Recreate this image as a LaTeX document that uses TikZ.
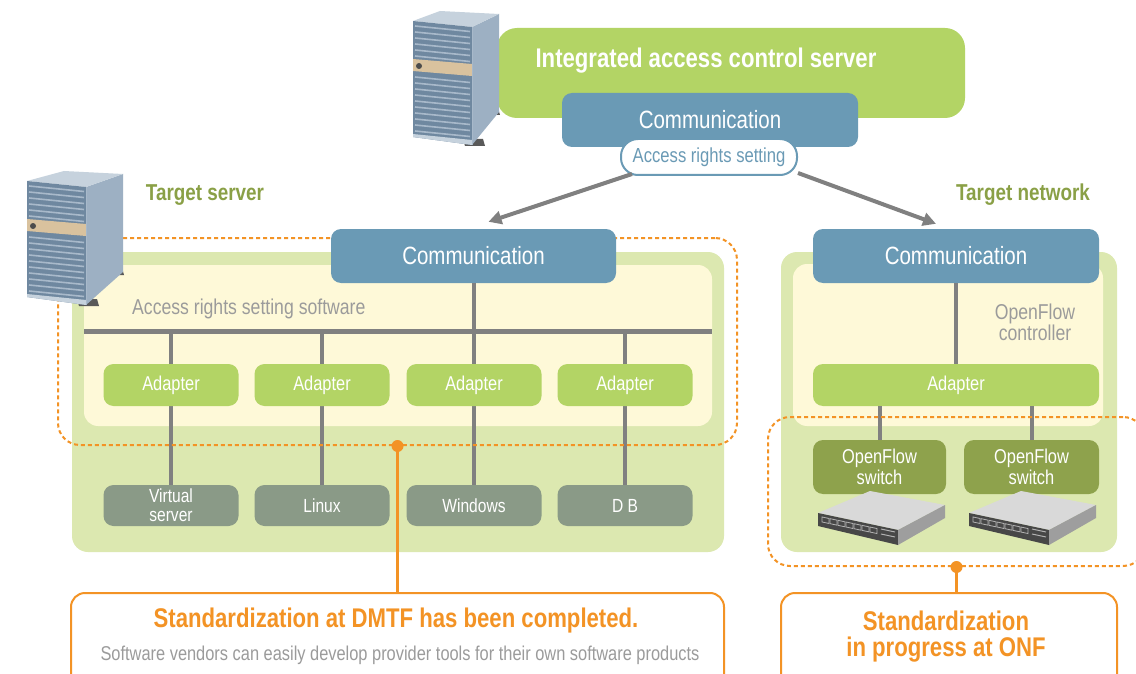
\documentclass[tikz,border=0pt]{standalone}
\usepackage{fontspec}
\setmainfont{Liberation Sans}[FakeStretch=0.82]
\usetikzlibrary{arrows.meta}

\definecolor{leafgreen}{HTML}{B3D465}
\definecolor{panelgreen}{HTML}{DCE8B0}
\definecolor{paleyellow}{HTML}{FEF9D8}
\definecolor{commblue}{HTML}{6A9AB5}
\definecolor{osgray}{HTML}{8A9A87}
\definecolor{olivebox}{HTML}{8EA24C}
\definecolor{olivetext}{HTML}{8AA046}
\definecolor{linegray}{HTML}{808080}
\definecolor{softgray}{HTML}{9B9B9B}
\definecolor{noteorange}{HTML}{F39325}
\definecolor{ventblue}{HTML}{6F88A0}
\definecolor{ventlight}{HTML}{A8B9CA}
\definecolor{sideblue}{HTML}{9DB0C3}
\definecolor{topblue}{HTML}{C6D2DD}
\definecolor{panelbeige}{HTML}{D9C29E}

\tikzset{
  panel/.style={fill=panelgreen, rounded corners=16pt, inner sep=0pt},
  softarea/.style={fill=paleyellow, rounded corners=14pt, inner sep=0pt},
  commbox/.style={fill=commblue, rounded corners=10pt, text=white, inner sep=0pt,
    minimum height=54pt, font=\fontsize{25}{28}\selectfont},
  accessbox/.style={fill=white, draw=commblue, line width=2pt, rounded corners=17pt,
    text=commblue, inner sep=0pt, minimum width=176pt, minimum height=36pt,
    font=\fontsize{20.3}{23}\selectfont},
  adapterbox/.style={fill=leafgreen, rounded corners=10pt, text=white, inner sep=0pt,
    minimum width=135pt, minimum height=42pt, font=\fontsize{20}{22}\selectfont},
  osbox/.style={fill=osgray, rounded corners=10pt, text=white, inner sep=0pt, align=center,
    minimum width=135pt, minimum height=41pt, font=\fontsize{19}{19}\selectfont},
  ofbox/.style={fill=olivebox, rounded corners=10pt, text=white, inner sep=0pt, align=center,
    minimum height=54pt, font=\fontsize{20}{21}\selectfont},
  softlabel/.style={text=softgray, inner sep=0pt, font=\fontsize{21.5}{21}\selectfont},
  teamlabel/.style={text=olivetext, inner sep=0pt, font=\bfseries\fontsize{23}{26}\selectfont},
  zone/.style={draw=noteorange, line width=2pt, dash pattern=on 4pt off 3pt,
    rounded corners=22pt, inner sep=0pt},
  notebox/.style={draw=noteorange, line width=2pt, fill=white, rounded corners=14pt, inner sep=0pt},
  notetitle/.style={text=noteorange, inner sep=0pt, align=center,
    font=\bfseries\fontsize{27}{26}\selectfont},
  notetext/.style={text=softgray, inner sep=0pt, font=\fontsize{20}{22}\selectfont},
  wire/.style={draw=linegray, line width=4pt},
  bus/.style={draw=linegray, line width=5pt},
  arrowline/.style={draw=linegray, line width=4pt, -{Triangle[length=13pt,width=13pt]}},
  orangeline/.style={draw=noteorange, line width=2.5pt}
}

% tower server: #1 = top left corner, #2 = depth of the side face
\newcommand{\towerserver}[2]{%
  \begin{scope}[shift={#1}]
    \fill[black!65] (#2+38,96) -- (#2+58,96) -- (#2+60,103) -- (#2+40,103) -- cycle;
    \fill[black!65] (50,127) -- (70,127) -- (72,134) -- (52,134) -- cycle;
    \fill[sideblue] (59,15) -- (59+#2,2) -- (59+#2,100) -- (59,133) -- cycle;
    \fill[topblue] (0,9) -- (#2,-1) -- (59+#2,2) -- (59,15) -- cycle;
    \fill[ventblue] (0,9) -- (59,15) -- (59,133) -- (0,125) -- cycle;
    \foreach \v in {14,20,...,44,65,71,...,119}
      \draw[ventlight, line width=1.6pt] (2,\v) -- (57,\v+5.5);
    \fill[panelbeige] (0,47) -- (59,52) -- (59,64) -- (0,59) -- cycle;
    \fill[black!70] (6,54) circle (3pt);
    \fill[topblue] (0,122) -- (59,128) -- (59,133) -- (0,125) -- cycle;
    \draw[ventlight, line width=1pt] (59,15) -- (59,133);
  \end{scope}}

% rack switch: #1 = top left corner
\newcommand{\flatswitch}[1]{%
  \begin{scope}[shift={#1}]
    \fill[black!15] (3,23) -- (55,1) -- (130,15) -- (83,40) -- cycle;
    \fill[black!72] (3,23) -- (83,40) -- (83,55) -- (3,36) -- cycle;
    \fill[black!38] (83,40) -- (130,15) -- (130,28) -- (83,55) -- cycle;
    \foreach \p in {7,15,...,55}
      \draw[black!30, line width=0.8pt] (\p,25.5+0.21*\p) -- (\p+7,27+0.21*\p)
        -- (\p+7,32+0.21*\p) -- (\p,30.5+0.21*\p) -- cycle;
    \draw[black!30, line width=1pt] (66,39) -- (80,42) (66,44) -- (80,47);
  \end{scope}}

\begin{document}
\begin{tikzpicture}[x=1pt,y=-1pt]
\clip (0,0) rectangle (1136,674);
\fill[white] (0,0) rectangle (1136,674);

% integrated access control server
\node[fill=leafgreen, rounded corners=20pt, minimum width=468pt, minimum height=90pt] (icsbox) at (731,73) {};
\node[text=white, inner sep=0pt, font=\bfseries\fontsize{27}{30}\selectfont] (icstitle) at (706,61) {Integrated access control server};
\towerserver{(413,12)}{27}
\node[commbox, minimum width=296pt] (commtop) at (710,120) {Communication};
\node[accessbox] (access) at (709,157) {Access rights setting};

% target server
\node[panel, minimum width=652pt, minimum height=300pt] (srvpanel) at (398,402) {};
\node[softarea, minimum width=628pt, minimum height=161pt] (srvsoft) at (398,345.5) {};
\node[softlabel, anchor=west] (srvlabel) at (132,309) {Access rights setting software};
\coordinate (busW) at (84,331);
\coordinate (busE) at (712,331);
\draw[bus] (busW) -- (busE);
\foreach \x/\os [count=\i] in {171/{Virtual\\server},322/Linux,474/Windows,625/D B} {
  \node[osbox] (os\i) at (\x,505.5) {\os};
  \draw[wire] (os\i.north |- busW) -- (os\i.north);
  \node[adapterbox] (adapter\i) at (\x,385) {Adapter};
}
\node[zone, minimum width=679pt, minimum height=207pt] (dmtfzone) at (397.5,341.5) {};
\node[commbox, minimum width=285pt] (commleft) at (473.5,256) {Communication};
\draw[wire] (commleft.south) -- (commleft.south |- busW);
\towerserver{(27,172)}{37}
\node[teamlabel] (srvtitle) at (205,195) {Target server};

% target network
\node[panel, minimum width=336pt, minimum height=300pt] (netpanel) at (949,402) {};
\node[softarea, minimum width=310pt, minimum height=162pt] (netsoft) at (948,345) {};
\node[commbox, minimum width=286pt] (commright) at (956,256) {Communication};
\node[softlabel, align=center] (ofclabel) at (1035,322) {OpenFlow\\controller};
\node[adapterbox, minimum width=286pt] (adapterR) at (956,385) {Adapter};
\draw[wire] (commright.south) -- (adapterR.north);
\node[ofbox, minimum width=133pt] (switch1) at (879.5,467) {OpenFlow\\switch};
\node[ofbox, minimum width=135pt] (switch2) at (1031.5,467) {OpenFlow\\switch};
\draw[wire] (switch1.north) -- (switch1.north |- adapterR.south);
\draw[wire] (switch2.north) -- (switch2.north |- adapterR.south);
\flatswitch{(815,490)}
\flatswitch{(966,490)}
\node[zone, minimum width=377pt, minimum height=149pt] (onfzone) at (956.5,491.5) {};
\node[teamlabel] (nettitle) at (1023,195) {Target network};

% access rights distribution
\draw[arrowline] ([xshift=12pt,yshift=2pt]access.south west) -- ([xshift=15pt,yshift=7pt]commleft.north);
\draw[arrowline] ([yshift=3pt]access.south east) -- ([xshift=-20pt,yshift=5pt]commright.north);

% standardization notes
\node[notebox, minimum width=653pt, minimum height=100pt] (dmtfnote) at (397.5,643) {};
\node[notetitle] (dmtftitle) at (396,621) {Standardization at DMTF has been completed.};
\node[notetext] (dmtftext) at (400,655) {Software vendors can easily develop provider tools for their own software products};
\draw[orangeline] (dmtfzone.south) -- (dmtfzone.south |- dmtfnote.north);
\fill[noteorange] (dmtfzone.south) circle (6pt);

\node[notebox, minimum width=336pt, minimum height=100pt] (onfnote) at (949,643) {};
\node[notetitle] (onftitle) at (946,637) {Standardization\\in progress at ONF};
\draw[orangeline] (onfzone.south) -- (onfzone.south |- onfnote.north);
\fill[noteorange] (onfzone.south) circle (6pt);
\end{tikzpicture}
\end{document}
